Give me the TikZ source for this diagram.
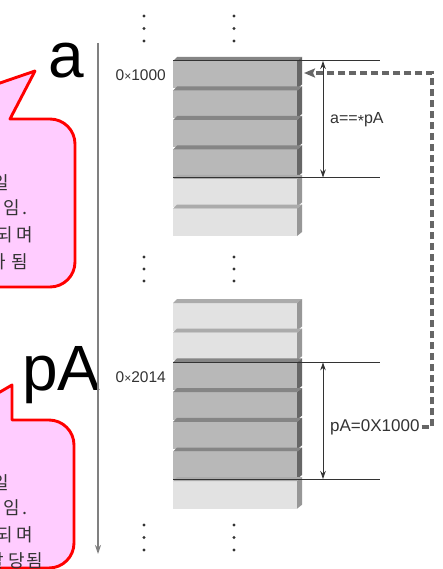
\documentclass[tikz,border=0pt]{standalone}
\usepackage{fontspec}
\setmainfont{Liberation Sans}
\newfontfamily\cjk{Noto Sans CJK KR}
\usetikzlibrary{arrows.meta}
\definecolor{frontd}{HTML}{B8B8B8}
\definecolor{topd}{HTML}{858585}
\definecolor{sided}{HTML}{666666}
\definecolor{frontl}{HTML}{E2E2E2}
\definecolor{topl}{HTML}{ABABAB}
\definecolor{sidel}{HTML}{979797}
\definecolor{inkgray}{HTML}{333333}
\definecolor{dashgray}{HTML}{666666}
\definecolor{bubblefill}{HTML}{FFCCFF}
\tikzset{
  bubble/.style={draw=red, line width=2.9pt, fill=bubblefill, line join=round},
  bubtext/.style={font=\cjk\fontsize{18}{18}\selectfont, text=inkgray, anchor=east, inner sep=0pt},
  biglabel/.style={font=\fontsize{64}{64}\selectfont, anchor=base, inner sep=0pt},
  addr/.style={font=\fontsize{15.5}{15.5}\selectfont, text=inkgray, anchor=east, inner sep=0pt},
  dimlabel/.style={text=inkgray, anchor=west, inner sep=2pt},
  guide/.style={draw=inkgray, line width=1pt},
  dimarrow/.style={draw=inkgray, line width=0.9pt, {Stealth[length=8pt,width=5.5pt]}-{Stealth[length=8pt,width=5.5pt]}},
  axis/.style={draw=gray, line width=1.4pt, -{Stealth[length=9pt,width=6pt]}},
  ptr/.style={draw=dashgray, line width=3.6pt, dash pattern=on 7pt off 4pt, -{Stealth[length=11pt,width=9pt,inset=2pt]}},
  vdot/.style={fill=inkgray, draw=none}
}
\begin{document}
\begin{tikzpicture}[x=1pt,y=-1pt]
\useasboundingbox (0,0) rectangle (442,569);
\fill[white] (0,0) rectangle (442,569);

% speech bubbles (clipped at the left edge)
\begin{scope}
\clip (0,0) rectangle (442,569);
\draw[bubble] (-30,93.3) -- (35,71) -- (10,119) -- (50,119)
  arc[start angle=-90,end angle=0,radius=25] -- (75,262)
  arc[start angle=0,end angle=90,radius=25] -- (-30,287) -- cycle;
\draw[bubble] (-30,409.5) -- (12,385) -- (12,420) -- (49,420)
  arc[start angle=-90,end angle=0,radius=25] -- (74,543)
  arc[start angle=0,end angle=90,radius=25] -- (-30,568) -- cycle;
\node[bubtext] (ta1) at (9,183) {변수 a는 int형 일};
\node[bubtext] (ta2) at (28,208) {반 변수 임\hspace{3pt}.};
\node[bubtext] (ta3) at (33,235) {0x1000번지에 할당되\hspace{3pt}며};
\node[bubtext] (ta4) at (28,262) {크기는 4바이트가\hspace{5pt}됨};
\node[bubtext] (tb1) at (9,484) {pA는 포인터 변수로 일};
\node[bubtext] (tb2) at (28,508) {종의 주소 변수 임\hspace{3pt}.};
\node[bubtext] (tb3) at (33,535) {0x2014번지에 할당되\hspace{3pt}며};
\node[bubtext] (tb4) at (43,561) {4바이트가 할 당\hspace{1.5pt}됨};
\end{scope}

% big labels
\node[biglabel] (la) at (66,78) {a};
\node[biglabel] (lpa) at (61.5,390) {pA};

% address axis
\coordinate (ax1) at (98,43);
\coordinate (ax2) at (98,554);
\draw[axis] (ax1) -- (ax2);

% vertical ellipsis dots
\foreach \x in {144,234}{
  \foreach \y in {16,28.5,41,257,269,281,525,537.5,550}{
    \fill[vdot] (\x,\y) circle (1.6);
  }
}

% upper memory column
\foreach \y/\k in {61/d,90.5/d,120/d,149.5/d,179/l,208.5/l}{
  \fill[front\k] (173,\y) rectangle (297,{\y+27.5});
  \fill[top\k] (173,\y) -- (177,{\y-4}) -- (302,{\y-4}) -- (297,\y) -- cycle;
  \fill[side\k] (297,\y) -- (302,{\y-4}) -- (302,{\y+23.5}) -- (297,{\y+27.5}) -- cycle;
}
% lower memory column
\foreach \y/\k in {303/l,332.7/l,362.4/d,392.1/d,421.8/d,451.5/d,481.2/l}{
  \fill[front\k] (173,\y) rectangle (297,{\y+27.5});
  \fill[top\k] (173,\y) -- (177,{\y-4}) -- (302,{\y-4}) -- (297,\y) -- cycle;
  \fill[side\k] (297,\y) -- (302,{\y-4}) -- (302,{\y+23.5}) -- (297,{\y+27.5}) -- cycle;
}

% addresses
\node[addr] (a1000) at (166,75) {0{\fontsize{12}{12}\selectfont ×}1000};
\node[addr] (a2014) at (166,377) {0{\fontsize{12}{12}\selectfont ×}2014};

% guide lines and dimension arrows (upper)
\coordinate (g1l) at (173,61);  \coordinate (g1r) at (380,61);
\coordinate (g2l) at (173,177.5); \coordinate (g2r) at (380,177.5);
\draw[guide] (g1l) -- (g1r);
\draw[guide] (g2l) -- (g2r);
\coordinate (d1t) at (323,61); \coordinate (d1b) at (323,177.5);
\draw[dimarrow] (d1t) -- (d1b);
\node[dimlabel, font=\fontsize{16}{16}\selectfont] (lbla) at (328,120) {a==\raisebox{-0.3ex}{*}pA};

% guide lines and dimension arrows (lower)
\coordinate (g3l) at (173,362.4); \coordinate (g3r) at (380,362.4);
\coordinate (g4l) at (173,479);   \coordinate (g4r) at (380,479);
\draw[guide] (g3l) -- (g3r);
\draw[guide] (g4l) -- (g4r);
\coordinate (d2t) at (323,362.4); \coordinate (d2b) at (323,479);
\draw[dimarrow] (d2t) -- (d2b);
\node[dimlabel, font=\fontsize{17}{17}\selectfont] (lblpa) at (328,427) {pA=0X1000};

% pointer (dashed) connector
\coordinate (c1) at (432,427);
\coordinate (c2) at (432,73);
\coordinate (tgt) at (304,73);
\draw[ptr] (lblpa.east) -- (c1) -- (c2) -- (tgt);
\end{tikzpicture}
\end{document}
